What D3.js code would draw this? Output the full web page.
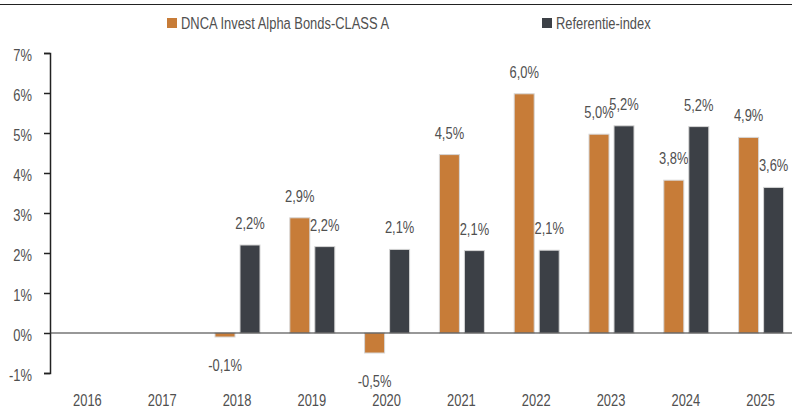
<!DOCTYPE html>
<html>
<head>
<meta charset="utf-8">
<script src="https://cdn.jsdelivr.net/npm/d3@7"></script>
<style>
  body { margin: 0; background: #fff; }
  text { font-family: "Liberation Sans", sans-serif; fill: #505050; font-size: 17px; }
</style>
</head>
<body>
<svg id="chart" width="792" height="408"></svg>
<script>
// data
var years = ["2016", "2017", "2018", "2019", "2020", "2021", "2022", "2023", "2024", "2025"];
var fundValues = [null, null, -0.1, 2.88, -0.5, 4.46, 5.98, 4.97, 3.82, 4.89];
var indexValues = [null, null, 2.2, 2.16, 2.09, 2.06, 2.07, 5.18, 5.16, 3.64];
var yTicks = [-1, 0, 1, 2, 3, 4, 5, 6, 7];
var seriesNames = ["DNCA Invest Alpha Bonds-CLASS A", "Referentie-index"];
var colors = ["#c77c38", "#3c4046"];

var squeeze = 0.76; // reference uses a condensed face

var svg = d3.select("#chart");

var x = d3.scaleBand().domain(years).range([50, 798]);
var y = d3.scaleLinear().domain([-1, 7]).range([373, 53]);

// condensed text helper
function label(g, px, py, str, anchor) {
  return g.append("text")
    .attr("transform", "translate(" + px + "," + py + ") scale(" + squeeze + ",1)")
    .attr("text-anchor", anchor || "middle")
    .text(str);
}

// top rule
svg.append("line")
  .attr("x1", 0).attr("x2", 792).attr("y1", 4.5).attr("y2", 4.5)
  .attr("stroke", "#222").attr("stroke-width", 1.2);

// y axis
var yAxis = svg.append("g")
  .attr("transform", "translate(50,0)")
  .call(d3.axisLeft(y).tickValues(yTicks).tickSize(6).tickFormat(""));
yAxis.select(".domain").attr("stroke", "#222").attr("stroke-width", 1.5);
yAxis.selectAll(".tick line").attr("stroke", "#222").attr("stroke-width", 1.5);

var yLab = svg.append("g");
yTicks.forEach(function(t) {
  label(yLab, 32, y(t) + 8, t + "%", "end");
});

// x labels
var xLab = svg.append("g");
years.forEach(function(yr) {
  label(xLab, x(yr) + x.bandwidth() / 2, 406, yr);
});

var barW = 20;
var offsets = [-22, 3];
var series = [fundValues, indexValues];

function fmt(v) { return v.toFixed(1).replace(".", ",") + "%"; }

series.forEach(function(vals, s) {
  var data = years.map(function(yr, i) { return { year: yr, v: vals[i] }; })
    .filter(function(d) { return d.v !== null; });

  svg.append("g").selectAll("rect")
    .data(data)
    .join("rect")
    .attr("x", function(d) { return x(d.year) + x.bandwidth() / 2 + offsets[s]; })
    .attr("width", barW)
    .attr("y", function(d) { return Math.min(y(d.v), y(0)); })
    .attr("height", function(d) { return Math.abs(y(d.v) - y(0)); })
    .attr("fill", colors[s])
    .attr("stroke", "#d6d6d6")
    .attr("stroke-width", 1);

  var lg = svg.append("g");
  data.forEach(function(d) {
    var cx = x(d.year) + x.bandwidth() / 2 + offsets[s] + barW / 2;
    var cy = d.v >= 0 ? y(d.v) - 16 : y(d.v) + 34;
    label(lg, cx, cy, fmt(d.v));
  });
});

// zero line
svg.append("line")
  .attr("x1", 50).attr("x2", 792).attr("y1", y(0)).attr("y2", y(0))
  .attr("stroke", "#333").attr("stroke-width", 1.2);

// legend
var legendPos = [167, 542];
var leg = svg.append("g");
seriesNames.forEach(function(name, i) {
  leg.append("rect")
    .attr("x", legendPos[i]).attr("y", 18)
    .attr("width", 10).attr("height", 10)
    .attr("fill", colors[i]);
  label(leg, legendPos[i] + 14, 29, name, "start");
});
</script>
</body>
</html>
